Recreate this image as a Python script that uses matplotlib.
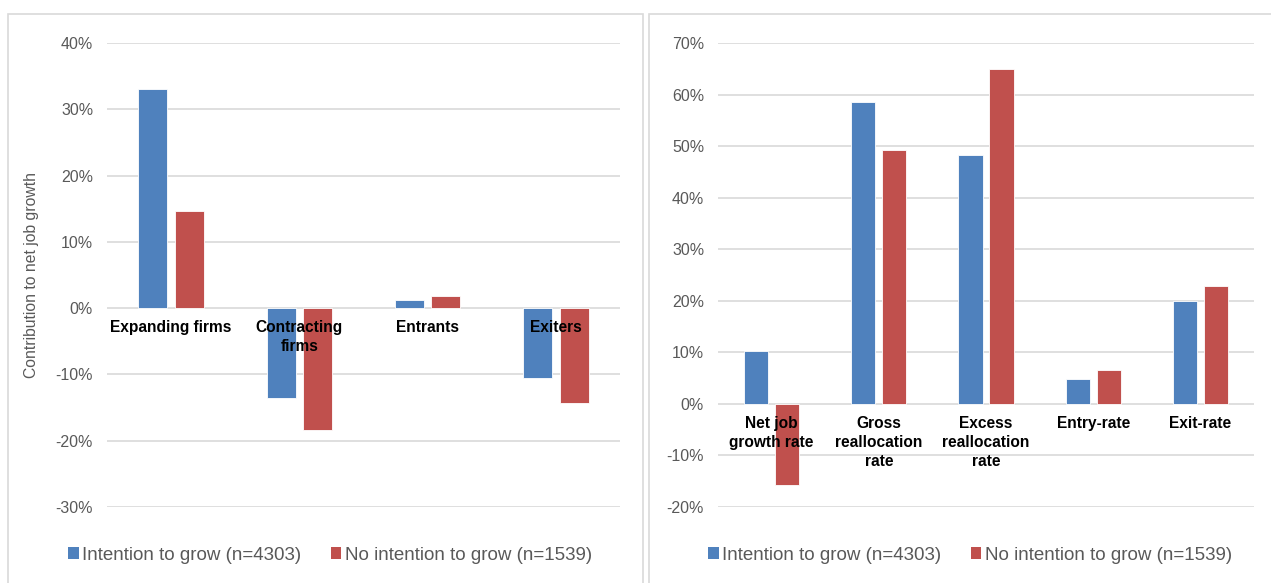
import matplotlib
matplotlib.use("Agg")
import matplotlib.pyplot as plt
from matplotlib.patches import Rectangle, Patch
from matplotlib.ticker import FuncFormatter, MultipleLocator
import numpy as np

plt.rcParams['font.family'] = ['Liberation Sans', 'DejaVu Sans']

# ---- data ----
left_categories = ["Expanding firms", "Contracting\nfirms", "Entrants", "Exiters"]
left_grow = [33.1, -13.6, 1.2, -10.6]
left_nogrow = [14.7, -18.4, 1.9, -14.3]

right_categories = ["Net job\ngrowth rate", "Gross\nreallocation\nrate",
                    "Excess\nreallocation\nrate", "Entry-rate", "Exit-rate"]
right_grow = [10.2, 58.5, 48.3, 4.8, 19.9]
right_nogrow = [-15.8, 49.2, 64.9, 6.5, 22.9]

series_names = ["Intention to grow (n=4303)", "No intention to grow (n=1539)"]
left_ylabel = "Contribution to net job growth"

BLUE = "#4F81BD"
RED = "#C0504D"
GRID = "#D9D9D9"
TXT = "#595959"

W, H = 1271, 583
fig = plt.figure(figsize=(W / 100, H / 100), dpi=100)

def px_axes(x0, x1, ytop, ybot):
    return fig.add_axes([x0 / W, (H - ybot) / H, (x1 - x0) / W, (ybot - ytop) / H])

# panel borders
fig.patches.append(Rectangle((8 / W, -0.1), (643 - 8) / W, (H - 14) / H + 0.1,
                             transform=fig.transFigure, fill=False,
                             edgecolor=GRID, linewidth=1.2, zorder=0))
fig.patches.append(Rectangle((649 / W, -0.1), (W + 10 - 649) / W, (H - 14) / H + 0.1,
                             transform=fig.transFigure, fill=False,
                             edgecolor=GRID, linewidth=1.2, zorder=0))

def draw_panel(ax, cats, a, b, ylim, step, offset, width, label_pad):
    x = np.arange(len(cats))
    ax.bar(x - offset, a, width=width, color=BLUE, edgecolor="white", linewidth=0.6, zorder=3)
    ax.bar(x + offset, b, width=width, color=RED, edgecolor="white", linewidth=0.6, zorder=3)
    ax.set_xlim(-0.5, len(cats) - 0.5)
    ax.set_ylim(*ylim)
    ax.yaxis.set_major_locator(MultipleLocator(step))
    ax.yaxis.set_major_formatter(FuncFormatter(lambda v, p: f"{v:.0f}%".replace("\u2212", "-")))
    ax.grid(axis="y", color=GRID, linewidth=1.2, zorder=0)
    ax.set_axisbelow(True)
    for s in ax.spines.values():
        s.set_visible(False)
    ax.set_xticks([])
    ax.tick_params(axis="y", length=0, pad=10, labelsize=11.5, labelcolor=TXT)
    for xi, c in zip(x, cats):
        ax.annotate(c, xy=(xi, 0), xycoords="data", xytext=(0, -label_pad),
                    textcoords="offset points", ha="center", va="top",
                    fontsize=11.2, fontweight="bold", color="black",
                    linespacing=1.33, zorder=5)

axL = px_axes(107, 620, 43, 507)
draw_panel(axL, left_categories, left_grow, left_nogrow, (-30, 40), 10, 0.142, 0.225, 8.5)
axL.set_ylabel(left_ylabel, fontsize=11.3, color=TXT)
axL.yaxis.set_label_coords((39 - 107) / (620 - 107), 0.5)

axR = px_axes(718, 1254, 43, 507)
draw_panel(axR, right_categories, right_grow, right_nogrow, (-20, 70), 10, 0.145, 0.226, 8.5)

handles = [Patch(facecolor=BLUE), Patch(facecolor=RED)]
for cx in (330, 970):
    fig.legend(handles, series_names, loc="center", bbox_to_anchor=(cx / W, (H - 555) / H),
               ncol=2, frameon=False, fontsize=13.5, labelcolor=TXT,
               handlelength=0.55, handleheight=0.55, handletextpad=0.2,
               columnspacing=1.55, borderaxespad=0, borderpad=0)

fig.savefig("out.png", dpi=100)
